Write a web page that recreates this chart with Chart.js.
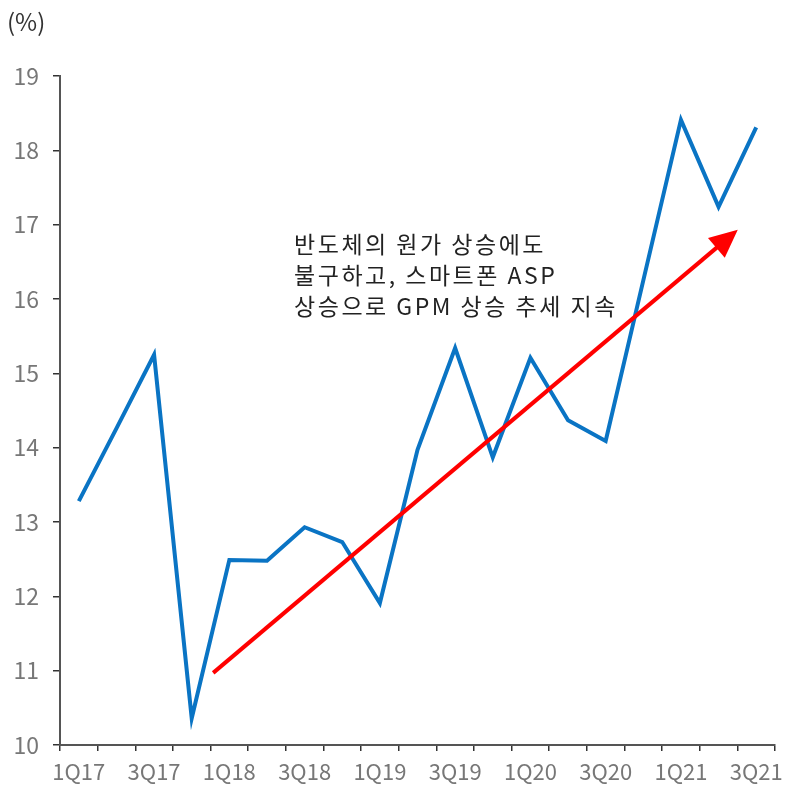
<!DOCTYPE html>
<html>
<head>
<meta charset="utf-8">
<script src="https://cdn.jsdelivr.net/npm/chart.js@4"></script>
<style>
  html, body { margin: 0; padding: 0; background: #fff; }
  #wrap { width: 790px; height: 791px; }
</style>
</head>
<body>
<div id="wrap"><canvas id="gpmChart" width="790" height="791"></canvas></div>
<script>
// quarters and GPM (%)
const quarters = ['1Q17','2Q17','3Q17','4Q17','1Q18','2Q18','3Q18','4Q18','1Q19','2Q19',
                  '3Q19','4Q19','1Q20','2Q20','3Q20','4Q20','1Q21','2Q21','3Q21'];
const gpm = [13.28, 14.26, 15.25, 10.36, 12.49, 12.48, 12.93, 12.73, 11.91, 13.97,
             15.34, 13.87, 15.21, 14.37, 14.09, 16.25, 18.41, 17.24, 18.31];
const yTicks = [10, 11, 12, 13, 14, 15, 16, 17, 18, 19];

// trend arrow (category index, value)
const arrowX = [3.57, 17.51];
const arrowY = [10.97, 16.93];

const noteLines = ['반도체의 원가 상승에도', '불구하고, 스마트폰 ASP', '상승으로 GPM 상승 추세 지속'];
const noteAt = { x: 5.72, y: 16.74 };

const FONT = "'Noto Sans CJK KR', 'Noto Sans', sans-serif";

const overlay = {
    id: 'overlay',
    afterDatasetsDraw(chart) {
        const c = chart.ctx;
        const xs = chart.scales.x, ys = chart.scales.y;

        // arrow
        const x0 = xs.getPixelForValue(arrowX[0]), y0 = ys.getPixelForValue(arrowY[0]);
        const x1 = xs.getPixelForValue(arrowX[1]), y1 = ys.getPixelForValue(arrowY[1]);
        const ang = Math.atan2(y1 - y0, x1 - x0);
        const headLen = 28, headW = 13;
        const bx = x1 - headLen * Math.cos(ang), by = y1 - headLen * Math.sin(ang);
        c.save();
        c.strokeStyle = '#ff0000';
        c.fillStyle = '#ff0000';
        c.lineWidth = 4;
        c.beginPath();
        c.moveTo(x0, y0);
        c.lineTo(bx + 2 * Math.cos(ang), by + 2 * Math.sin(ang));
        c.stroke();
        c.beginPath();
        c.moveTo(x1, y1);
        c.lineTo(bx + headW * Math.sin(ang), by - headW * Math.cos(ang));
        c.lineTo(bx - headW * Math.sin(ang), by + headW * Math.cos(ang));
        c.closePath();
        c.fill();

        // note text
        c.fillStyle = '#222';
        c.font = '23px ' + FONT;
        c.letterSpacing = '2.5px';
        c.textAlign = 'left';
        c.textBaseline = 'middle';
        const tx = xs.getPixelForValue(noteAt.x), ty = ys.getPixelForValue(noteAt.y);
        noteLines.forEach((s, i) => c.fillText(s, tx, ty + i * 31));
        c.letterSpacing = '0px';

        // unit
        c.fillStyle = '#333';
        c.font = '24px ' + FONT;
        c.fillText('(%)', 7, 22);
        c.restore();
    }
};

new Chart(document.getElementById('gpmChart'), {
    type: 'line',
    data: {
        labels: quarters,
        datasets: [{
            data: gpm,
            borderColor: '#0a74c4',
            borderWidth: 4,
            pointRadius: 0,
            tension: 0,
            fill: false
        }]
    },
    options: {
        responsive: false,
        animation: false,
        devicePixelRatio: 1,
        layout: { padding: { top: 76, right: 12, left: 0, bottom: 0 } },
        plugins: { legend: { display: false }, tooltip: { enabled: false } },
        scales: {
            x: {
                offset: true,
                afterFit(s) { s.height = 46; },
                grid: {
                    offset: true,
                    drawOnChartArea: false,
                    drawTicks: true,
                    tickLength: 6,
                    color: '#333',
                    lineWidth: 1.5
                },
                border: { color: '#555', width: 2 },
                ticks: {
                    autoSkip: false,
                    maxRotation: 0,
                    padding: 7,
                    color: '#777',
                    font: { family: FONT, size: 22 },
                    callback: (v, i) => (i % 2 === 0 ? quarters[i] : '')
                }
            },
            y: {
                min: 10,
                max: 19,
                afterFit(s) { s.width = 60; },
                afterBuildTicks(s) { s.ticks = yTicks.map(v => ({ value: v })); },
                grid: {
                    drawOnChartArea: false,
                    drawTicks: true,
                    tickLength: 7,
                    color: '#333',
                    lineWidth: 1.5
                },
                border: { color: '#555', width: 2 },
                ticks: {
                    padding: 14,
                    color: '#777',
                    font: { family: FONT, size: 23 }
                }
            }
        }
    },
    plugins: [overlay]
});
</script>
</body>
</html>
